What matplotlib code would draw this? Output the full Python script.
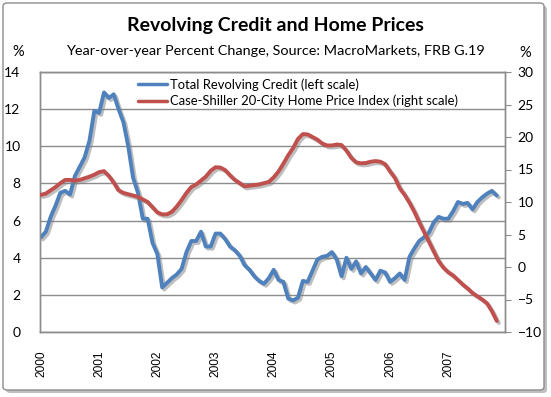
import matplotlib
matplotlib.use("Agg")
import matplotlib.pyplot as plt
import matplotlib.patheffects as pe
from matplotlib.patches import FancyBboxPatch
import numpy as np

plt.rcParams['font.family'] = ['Lato', 'DejaVu Sans']

years = ["2000", "2001", "2002", "2003", "2004", "2005", "2006", "2007"]

revolving_credit = [
    5.1, 5.4, 6.2, 6.8, 7.5, 7.6, 7.4, 8.4, 8.9, 9.4, 10.3, 11.9,
    11.8, 12.9, 12.6, 12.8, 12.0, 11.3, 10.0, 8.3, 7.5, 6.1, 6.1, 4.8,
    4.2, 2.4, 2.65, 2.9, 3.1, 3.4, 4.3, 4.9, 4.9, 5.4, 4.6, 4.6,
    5.3, 5.3, 5.0, 4.6, 4.4, 4.1, 3.6, 3.35, 3.0, 2.75, 2.6, 2.9,
    3.35, 2.8, 2.7, 1.8, 1.7, 1.85, 2.75, 2.7, 3.3, 3.9, 4.05, 4.1,
    4.3, 3.9, 3.0, 4.0, 3.4, 3.8, 3.15, 3.5, 3.15, 2.8, 3.3, 3.2,
    2.7, 2.9, 3.15, 2.8, 4.05, 4.5, 4.9, 5.1, 5.35, 5.9, 6.2, 6.1,
    6.1, 6.5, 7.0, 6.9, 6.95, 6.6, 7.0, 7.25, 7.45, 7.6, 7.35,
]

case_shiller = [
    11.1, 11.3, 11.8, 12.3, 12.9, 13.4, 13.4, 13.3, 13.4, 13.65, 13.9, 14.2,
    14.6, 14.75, 14.0, 13.0, 11.8, 11.4, 11.2, 11.0, 10.8, 10.4, 10.0, 9.2,
    8.4, 8.1, 8.1, 8.5, 9.3, 10.3, 11.4, 12.3, 12.7, 13.3, 13.9, 14.8,
    15.35, 15.3, 14.9, 14.1, 13.4, 12.9, 12.4, 12.5, 12.6, 12.7, 12.9, 13.1,
    13.8, 14.7, 15.9, 17.2, 18.3, 19.7, 20.45, 20.4, 20.0, 19.6, 19.0, 18.7,
    18.7, 18.85, 18.75, 17.9, 16.8, 16.1, 15.95, 16.0, 16.2, 16.3, 16.2, 15.8,
    14.7, 13.7, 12.1, 11.1, 9.9, 8.5, 6.9, 5.4, 3.9, 2.4, 0.9, -0.1,
    -0.8, -1.3, -2.0, -2.7, -3.3, -4.0, -4.5, -5.0, -5.6, -6.8, -8.3,
]

W, H = 551, 397
fig = plt.figure(figsize=(W / 100, H / 100), dpi=100)

# outer border with shadow
shadow = FancyBboxPatch((6 / W, 1 - 393 / H), 541 / W, 387 / H,
                        boxstyle="round,pad=0,rounding_size=0.008",
                        transform=fig.transFigure, facecolor="#bfbfbf",
                        edgecolor="none", zorder=-2)
border = FancyBboxPatch((3 / W, 1 - 390 / H), 541 / W, 387 / H,
                        boxstyle="round,pad=0,rounding_size=0.008",
                        transform=fig.transFigure, facecolor="white",
                        edgecolor="#8c8c8c", linewidth=1.0, zorder=-1)
fig.patches.extend([shadow, border])

left, right, top, bottom = 40, 505, 72, 332
ax = fig.add_axes([left / W, 1 - bottom / H, (right - left) / W, (bottom - top) / H])
ax.set_facecolor("white")
ax2 = ax.twinx()

x = np.arange(len(revolving_credit))
shadow_fx = [pe.SimpleLineShadow(offset=(1.5, -1.5), shadow_color="#7f7f7f", alpha=0.5), pe.Normal()]

ln1, = ax.plot(x, revolving_credit, color="#4F81BD", linewidth=2.8,
               solid_capstyle="round", label="Total Revolving Credit (left scale)",
               path_effects=shadow_fx, zorder=3)
ln2, = ax2.plot(np.arange(len(case_shiller)), case_shiller, color="#C0504D", linewidth=2.8,
                solid_capstyle="round",
                label="Case-Shiller 20-City Home Price Index (right scale)",
                path_effects=shadow_fx, zorder=3)

ax.set_xlim(-0.2, 95.7)
ax.set_ylim(0, 14)
ax2.set_ylim(-10, 30)
ax.set_yticks(np.arange(0, 15, 2))
ax2.set_yticks(np.arange(-10, 31, 5))
ax.set_xticks(np.arange(0, 96, 12)[:len(years)])
ax.set_xticklabels(years, rotation=90, fontfamily="Liberation Sans", fontsize=8.6)

ax.yaxis.grid(True, color="#8c8c8c", linewidth=1.0)
ax.set_axisbelow(True)

for a in (ax, ax2):
    for s in a.spines.values():
        s.set_color("#8c8c8c")
        s.set_linewidth(1.0)

ax.tick_params(axis="y", length=0, pad=14, labelsize=10, colors="black")
ax.tick_params(axis="x", length=0, pad=13, colors="black")
ax2.tick_params(axis="y", length=4, pad=5, labelsize=10, colors="black", color="#8c8c8c")

leg = ax.legend(handles=[ln1, ln2], loc="upper left",
                bbox_to_anchor=(133 / W, 1 - 73 / H), bbox_transform=fig.transFigure,
                frameon=False, fontsize=9.4, handlelength=2.2, handletextpad=0.25,
                labelspacing=0.3, borderaxespad=0)
for h in leg.legend_handles:
    h.set_path_effects([pe.Normal()])
    h.set_linewidth(2.5)

fig.text(275 / W, 1 - 25 / H, "Revolving Credit and Home Prices", ha="center", va="center",
         fontsize=14, fontweight="bold")
fig.text(275 / W, 1 - 51 / H, "Year-over-year Percent Change, Source: MacroMarkets, FRB G.19",
         ha="center", va="center", fontsize=10.4)
fig.text(18 / W, 1 - 52 / H, "%", ha="center", va="center", fontsize=10.5)
fig.text(525 / W, 1 - 53 / H, "%", ha="center", va="center", fontsize=10.5)

fig.savefig("out.png", dpi=100)
